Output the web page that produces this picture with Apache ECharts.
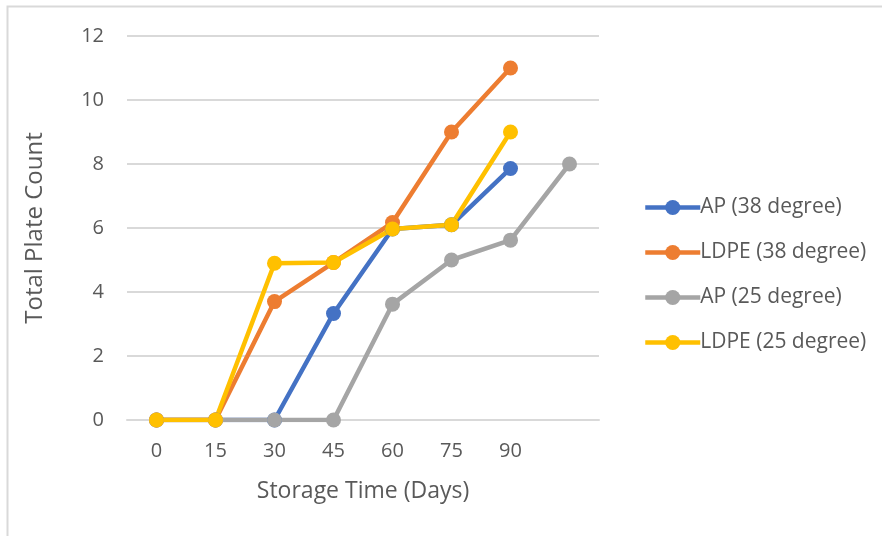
<!DOCTYPE html>
<html>
<head>
<meta charset="utf-8">
<script src="https://cdn.jsdelivr.net/npm/echarts@6/dist/echarts.min.js"></script>
<style>
  html, body { margin: 0; padding: 0; background: #fff; }
  #chart { width: 882px; height: 536px; }
</style>
</head>
<body>
<div id="chart"></div>
<script>
// Storage time categories (days); the last slot has no label
const days = ['0', '15', '30', '45', '60', '75', '90', ''];

// Total plate count per packaging / temperature
const ap38   = [0, 0, 0, 3.33, 5.97, 6.1, 7.86, null];
const ldpe38 = [0, 0, 3.7, 4.92, 6.17, 9.0, 11.0, null];
const ap25   = [0, 0, 0, 0, 3.62, 5.0, 5.62, 8.0];
const ldpe25 = [0, 0, 4.9, 4.92, 5.97, 6.1, 9.0, null];

const yTicks = { min: 0, max: 12, interval: 2 };

const textColor = '#595959';
const gridColor = '#D9D9D9';
const fontFamily = 'Open Sans, sans-serif';

function lineSeries(name, data, color) {
  return {
    name: name,
    type: 'line',
    data: data,
    symbol: 'circle',
    symbolSize: 15,
    connectNulls: false,
    itemStyle: { color: color },
    lineStyle: { color: color, width: 4.5 },
    emphasis: { disabled: true }
  };
}

const chart = echarts.init(document.getElementById('chart'), null, { renderer: 'canvas' });
chart.setOption({
  animation: false,
  backgroundColor: '#fff',
  textStyle: { fontFamily: fontFamily },
  graphic: [{
    type: 'rect',
    shape: { x: 7.5, y: 6.5, width: 900, height: 600 },
    style: { fill: 'none', stroke: gridColor, lineWidth: 2 },
    silent: true
  }],
  grid: { left: 127, right: 283, top: 36, bottom: 116, containLabel: false },
  legend: {
    orient: 'vertical',
    left: 638,
    top: 192,
    itemWidth: 55,
    itemHeight: 19,
    itemGap: 24,
    lineStyle: { width: 4.5 },
    textStyle: { color: textColor, fontSize: 21, fontFamily: fontFamily, padding: [0, 0, 0, -5] },
    data: ['AP (38 degree)', 'LDPE (38 degree)', 'AP (25 degree)', 'LDPE (25 degree)']
  },
  xAxis: {
    type: 'category',
    data: days,
    boundaryGap: true,
    name: 'Storage Time (Days)',
    nameLocation: 'middle',
    nameGap: 60,
    nameTextStyle: { color: textColor, fontSize: 23, fontFamily: fontFamily },
    axisLine: { show: true, lineStyle: { color: gridColor, width: 2 } },
    axisTick: { show: false },
    axisLabel: { color: textColor, fontSize: 20, margin: 21, interval: 0 }
  },
  yAxis: {
    type: 'value',
    min: yTicks.min,
    max: yTicks.max,
    interval: yTicks.interval,
    name: 'Total Plate Count',
    nameLocation: 'middle',
    nameGap: 80,
    nameTextStyle: { color: textColor, fontSize: 24, fontFamily: fontFamily },
    axisLine: { show: false },
    axisTick: { show: false },
    axisLabel: { color: textColor, fontSize: 20, margin: 23 },
    splitLine: { lineStyle: { color: gridColor, width: 2 } }
  },
  series: [
    lineSeries('AP (38 degree)', ap38, '#4472C4'),
    lineSeries('LDPE (38 degree)', ldpe38, '#ED7D31'),
    lineSeries('AP (25 degree)', ap25, '#A5A5A5'),
    lineSeries('LDPE (25 degree)', ldpe25, '#FFC000')
  ]
});
</script>
</body>
</html>
